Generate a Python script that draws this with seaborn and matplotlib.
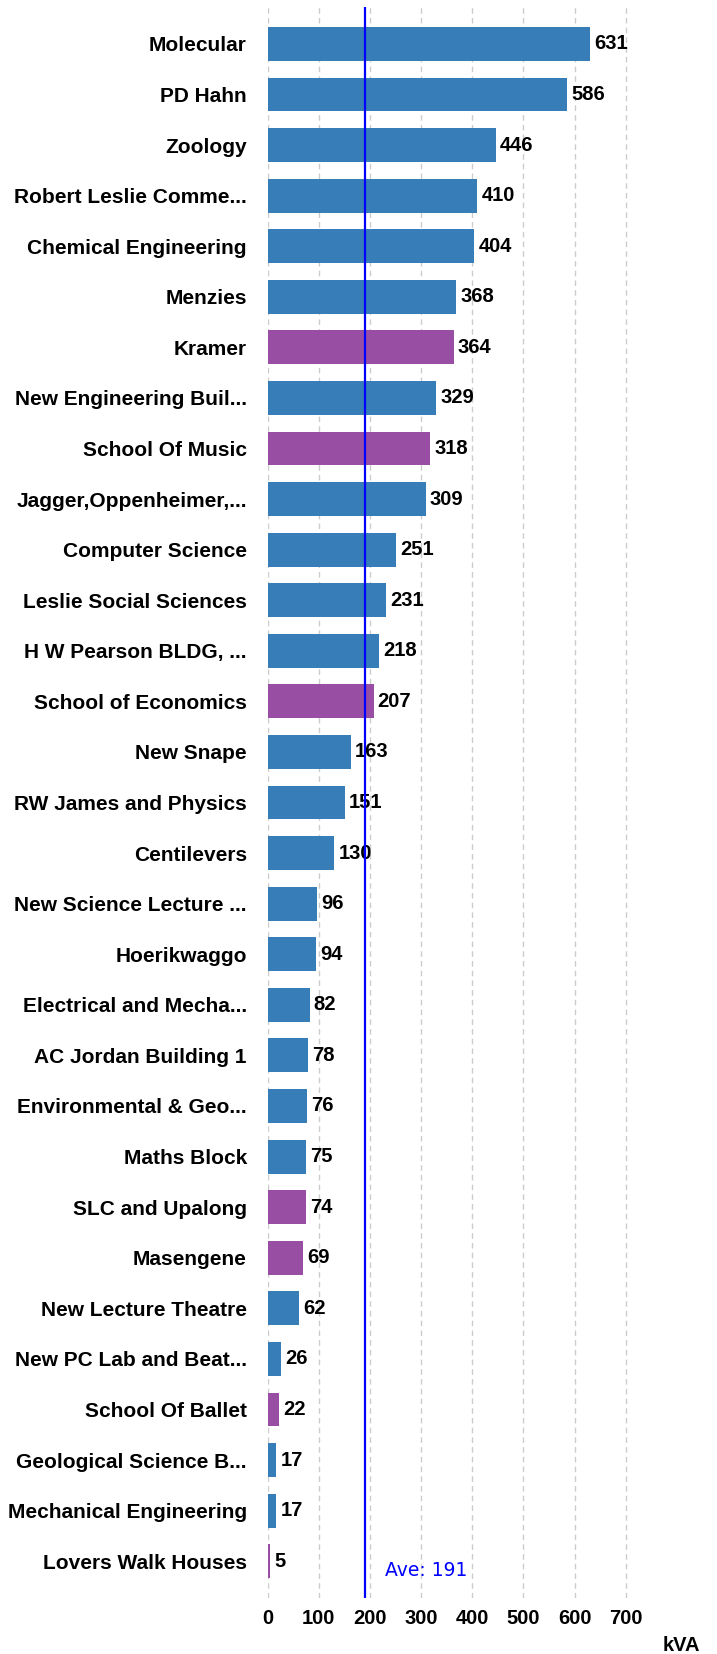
import matplotlib
matplotlib.use("Agg")
import matplotlib.pyplot as plt
import seaborn as sns
import pandas as pd

buildings = ["Molecular", "PD Hahn", "Zoology", "Robert Leslie Comme...",
             "Chemical Engineering", "Menzies", "Kramer", "New Engineering Buil...",
             "School Of Music", "Jagger,Oppenheimer,...", "Computer Science",
             "Leslie Social Sciences", "H W Pearson BLDG, ...", "School of Economics",
             "New Snape", "RW James and Physics", "Centilevers", "New Science Lecture ...",
             "Hoerikwaggo", "Electrical and Mecha...", "AC Jordan Building 1",
             "Environmental & Geo...", "Maths Block", "SLC and Upalong", "Masengene",
             "New Lecture Theatre", "New PC Lab and Beat...", "School Of Ballet",
             "Geological Science B...", "Mechanical Engineering", "Lovers Walk Houses"]
kva = [631, 586, 446, 410, 404, 368, 364, 329, 318, 309, 251, 231, 218, 207,
       163, 151, 130, 96, 94, 82, 78, 76, 75, 74, 69, 62, 26, 22, 17, 17, 5]
group = ["A", "A", "A", "A", "A", "A", "B", "A", "B", "A", "A", "A", "A", "B",
         "A", "A", "A", "A", "A", "A", "A", "A", "A", "B", "B", "A", "A", "B",
         "A", "A", "B"]
average = 191
ticks = [0, 100, 200, 300, 400, 500, 600, 700]

df = pd.DataFrame({"building": buildings, "kva": kva, "group": group})

sns.set_theme(style="white")
plt.rcParams["font.family"] = ["Liberation Sans", "DejaVu Sans"]
plt.rcParams["text.color"] = "black"
plt.rcParams["ytick.labelcolor"] = "black"
plt.rcParams["xtick.labelcolor"] = "black"

fig = plt.figure(figsize=(7.17, 16.54), dpi=100)
ax = fig.add_axes([0.3733, 0.0338, 0.8926 - 0.3733, 0.99577 - 0.0338])

sns.barplot(data=df, x="kva", y="building", hue="group",
            palette={"A": "#377eb8", "B": "#984ea3"}, dodge=False,
            width=0.67, legend=False, ax=ax, orient="h", saturation=1,
            linewidth=0, edgecolor="none")

for c in ax.containers:
    ax.bar_label(c, padding=3, fontsize=14.5, fontweight="bold", color="black")

ax.set_xlim(0, 728)
ax.set_ylim(30.73, -0.73)
ax.set_xticks(ticks)
ax.set_xticklabels([str(t) for t in ticks], fontsize=14.5, fontweight="bold", color="black")
ax.tick_params(axis="x", colors="#ff9900", length=2, width=1, pad=6, labelcolor="black")
ax.tick_params(axis="y", length=0, pad=15, labelsize=15, labelcolor="black")
for lab in ax.get_yticklabels():
    lab.set_fontweight("bold")
    lab.set_color("black")
ax.set_xlabel("")
ax.set_ylabel("")
for s in ax.spines.values():
    s.set_visible(False)
ax.grid(axis="x", color="#cccccc", linestyle=(0, (4, 3)), linewidth=1)
ax.grid(axis="y", visible=False)
ax.set_axisbelow(True)

ax.axvline(average, color="#0000ff", linewidth=1.6, zorder=5)
ax.annotate(f"Ave: {average}", xy=(average, 0.0175), xycoords=("data", "axes fraction"),
            xytext=(20, 0), textcoords="offset pixels", color="#0000ff",
            fontsize=13.5, family="DejaVu Sans", va="center", ha="left")

fig.text(700 / 717, 3 / 1654, "kVA", fontsize=14.5, fontweight="bold",
         ha="right", va="baseline", color="black")

fig.savefig("out.png", dpi=100)
